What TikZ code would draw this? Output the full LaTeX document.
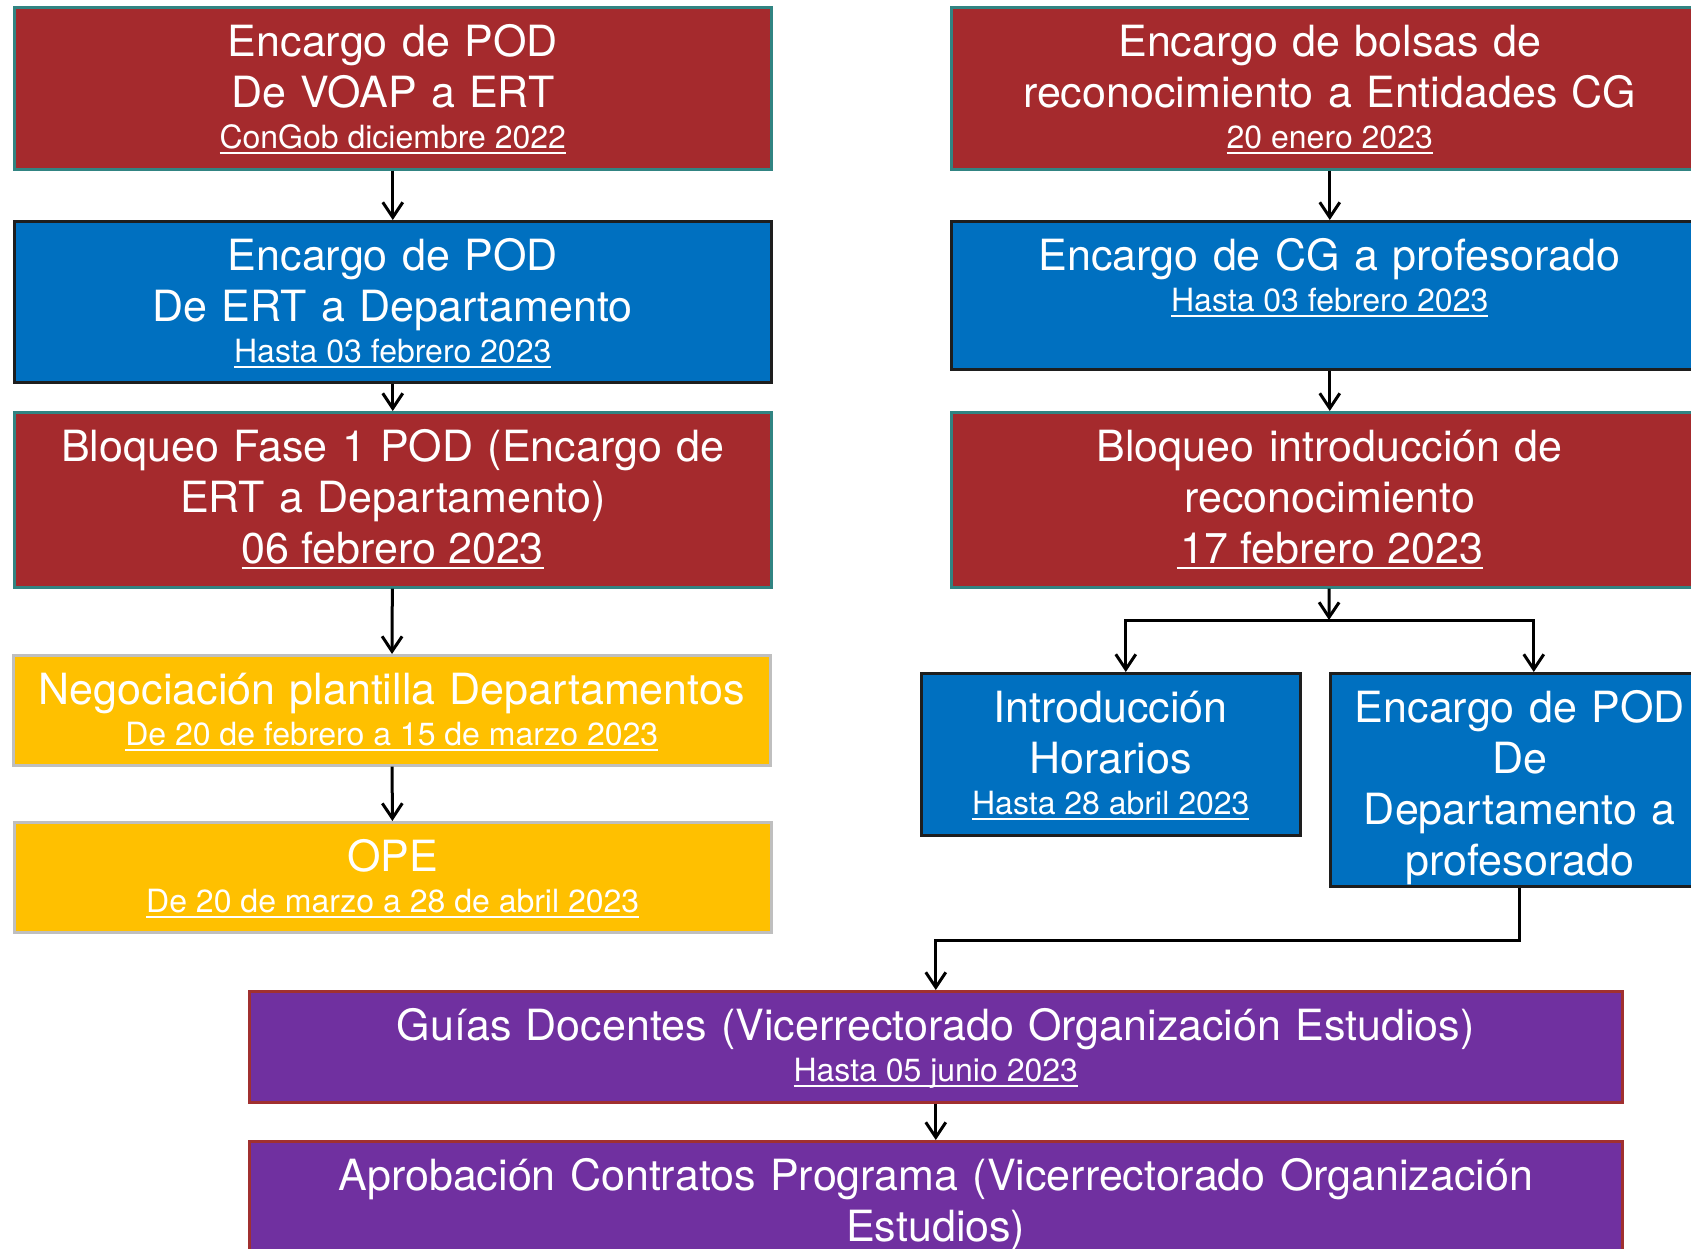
\documentclass[tikz,border=0pt]{standalone}
\usepackage{fontspec}
\setmainfont{TeX Gyre Heros}
\usetikzlibrary{arrows.meta}
\definecolor{redfill}{RGB}{165,42,45}
\definecolor{tealline}{RGB}{49,132,130}
\definecolor{bluefill}{RGB}{0,112,192}
\definecolor{blueline}{RGB}{30,30,30}
\definecolor{yellowfill}{RGB}{255,192,0}
\definecolor{greyline}{RGB}{191,191,191}
\definecolor{purplefill}{RGB}{112,48,160}
\definecolor{purpleline}{RGB}{160,48,48}
\newcommand{\mainfs}{\fontsize{43}{51}\selectfont}
\newcommand{\datefs}{\fontsize{32}{41}\selectfont}
\newcommand{\fecha}[1]{\leavevmode\setbox0\hbox{\spaceskip=0pt\xspaceskip=0pt #1}\rlap{\rule[-6pt]{\wd0}{2pt}}\box0}
\begin{document}
\begin{tikzpicture}[x=1pt, y=-1pt,
  box/.style 2 args={draw, line width=2.5pt, text=white, align=center, font=\mainfs,
    text width=#1, text height=49pt, text depth=#2, inner xsep=0pt, inner ysep=0pt, anchor=north west},
  redbox/.style 2 args={box={#1}{#2}, fill=redfill, draw=tealline},
  bluebox/.style 2 args={box={#1}{#2}, fill=bluefill, draw=blueline},
  yellowbox/.style 2 args={box={#1}{#2}, fill=yellowfill, draw=greyline},
  purplebox/.style 2 args={box={#1}{#2}, fill=purplefill, draw=purpleline},
  conn/.style={line width=3pt, -{Straight Barb[length=15pt,width=20pt]}}]
\useasboundingbox (0,0) rectangle (1691,1248);
\clip (0,0) rectangle (1691,1248);
\node[redbox={757pt}{113pt}] (podvoap) at (13,6){Encargo de POD\\De VOAP a ERT\\[-10pt]{\datefs\fecha{ConGob diciembre 2022}}};
\node[bluebox={757pt}{112pt}] (podert) at (13,220){Encargo de POD\\De ERT a Departamento\\[-10pt]{\datefs\fecha{Hasta 03 febrero 2023}}};
\node[redbox={757pt}{126pt}] (bloqfase) at (13,411){Bloqueo Fase 1 POD (Encargo de\\ERT a Departamento)\\\fecha{06 febrero 2023}};
\node[yellowbox={757pt}{61pt}] (negoc) at (12,654){Negociación plantilla Departamentos\\[-10pt]{\datefs\fecha{De 20 de febrero a 15 de marzo 2023}}};
\node[yellowbox={757pt}{61pt}] (ope) at (13,821){OPE\\[-10pt]{\datefs\fecha{De 20 de marzo a 28 de abril 2023}}};
\draw[conn](podvoap) -- (podert);
\draw[conn](podert) -- (bloqfase);
\draw[conn](bloqfase) -- (negoc);
\draw[conn](negoc) -- (ope);
\node[redbox={757pt}{113pt}] (bolsas) at (950,6){Encargo de bolsas de\\reconocimiento a Entidades CG\\[-10pt]{\datefs\fecha{20 enero 2023}}};
\node[bluebox={757pt}{99pt}] (encprof) at (950,220){Encargo de CG a profesorado\\[-10pt]{\datefs\fecha{Hasta 03 febrero 2023}}};
\node[redbox={757pt}{126pt}] (bloqrec) at (950,411){Bloqueo introducción de\\reconocimiento\\\fecha{\hspace{4pt}17 febrero 2023}};
\draw[conn](bolsas) -- (encprof);
\draw[conn](encprof) -- (bloqrec);
\node[bluebox={379pt}{113pt}] (horarios) at (920,672){Introducción\\Horarios\\[-10pt]{\datefs\fecha{Hasta 28 abril 2023}}};
\node[bluebox={379pt}{164pt}] (poddep) at (1329,672){Encargo de POD\\De\\Departamento a\\profesorado};
\coordinate (split) at (1329,620);
\draw[conn](bloqrec) -- (split);
\draw[conn](split) -| ([xshift=15pt]horarios.north);
\draw[conn](split) -| ([xshift=14pt]poddep.north);
\node[purplebox={1373pt}{62pt}] (guias) at (248,990){Guías Docentes (Vicerrectorado Organización Estudios)\\[-10pt]{\datefs\fecha{Hasta 05 junio 2023}}};
\node[purplebox={1373pt}{81pt}] (contratos) at (248,1140){Aprobación Contratos Programa (Vicerrectorado Organización\\Estudios)};
\draw[conn](poddep.south) -- ++(0,53) -| (guias.north);
\draw[conn](guias) -- (contratos);
\end{tikzpicture}
\end{document}
